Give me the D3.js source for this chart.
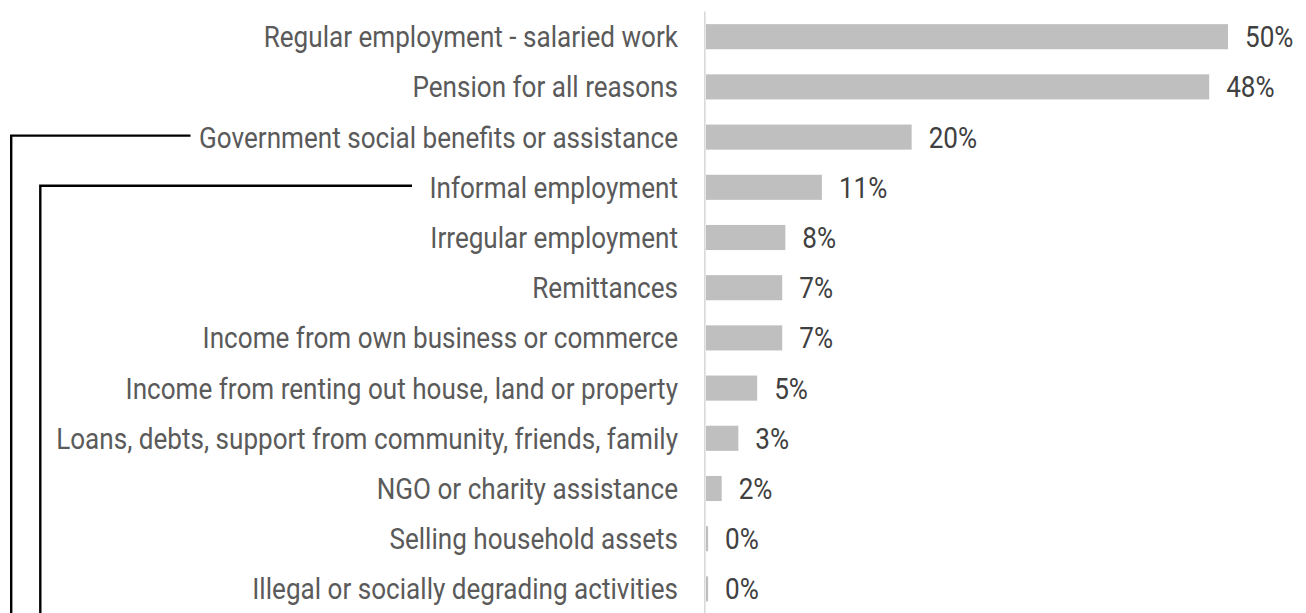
<!DOCTYPE html>
<html>
<head>
<meta charset="utf-8">
<script src="https://cdn.jsdelivr.net/npm/d3@7"></script>
<style>
  html, body { margin: 0; padding: 0; background: #ffffff; }
  svg { display: block; }
  text { font-family: Roboto, "Noto Sans", sans-serif; }
</style>
</head>
<body>
<svg id="chart" width="1306" height="613"></svg>
<script>
// Sources of household income (share of households)
const categories = [
  "Regular employment - salaried work",
  "Pension for all reasons",
  "Government social benefits or assistance",
  "Informal employment",
  "Irregular employment",
  "Remittances",
  "Income from own business or commerce",
  "Income from renting out house, land or property",
  "Loans, debts, support from community, friends, family",
  "NGO or charity assistance",
  "Selling household assets",
  "Illegal or socially degrading activities"
];
const shares = [0.50, 0.482, 0.197, 0.111, 0.076, 0.073, 0.073, 0.049, 0.031, 0.015, 0.002, 0.002];

// Categories highlighted by the bracket connectors on the left
const bracketed = ["Government social benefits or assistance", "Informal employment"];

const W = 1306, H = 613;
const squeeze = 0.9;   // horizontal compression to approximate a condensed face

const svg = d3.select("#chart");

const x = d3.scaleLinear().domain([0, 0.5]).range([706, 1228]);
const y = d3.scaleBand().domain(categories).range([11.6, 614])
  .paddingInner(0.5).paddingOuter(0.25);

const fmt = d3.format(".0%");

// Category axis line
svg.append("line")
  .attr("x1", x(0) - 1.2).attr("x2", x(0) - 1.2)
  .attr("y1", y.range()[0]).attr("y2", H)
  .attr("stroke", "#d9d9d9").attr("stroke-width", 1.6);

// Bars
svg.append("g").selectAll("rect")
  .data(categories)
  .join("rect")
  .attr("x", x(0))
  .attr("y", d => y(d))
  .attr("width", (d, i) => x(shares[i]) - x(0))
  .attr("height", y.bandwidth())
  .attr("fill", "#bfbfbf");

// Category labels, right-aligned against the axis
svg.append("g").selectAll("text")
  .data(categories)
  .join("text")
  .attr("transform", d => `translate(678,${y(d) + y.bandwidth() / 2}) scale(${squeeze},1)`)
  .attr("text-anchor", "end")
  .attr("dy", "0.36em")
  .attr("font-size", 29)
  .attr("fill", "#5a5a5a")
  .text(d => d);

// Value labels at the end of each bar
svg.append("g").selectAll("text")
  .data(categories)
  .join("text")
  .attr("transform", (d, i) => `translate(${x(shares[i]) + 17},${y(d) + y.bandwidth() / 2}) scale(${squeeze},1)`)
  .attr("dy", "0.36em")
  .attr("font-size", 29)
  .attr("fill", "#404040")
  .text((d, i) => fmt(shares[i]));

// Bracket connectors running off the bottom edge
const brackets = [
  { cat: bracketed[0], left: 11.2, right: 190.5 },
  { cat: bracketed[1], left: 40.3, right: 412 }
];
svg.append("g").selectAll("path")
  .data(brackets)
  .join("path")
  .attr("d", b => {
    const cy = y(b.cat) + y.bandwidth() / 2 - 1.5;
    return `M${b.right},${cy}H${b.left}V${H}`;
  })
  .attr("fill", "none")
  .attr("stroke", "#000000")
  .attr("stroke-width", 2.4);
</script>
</body>
</html>
